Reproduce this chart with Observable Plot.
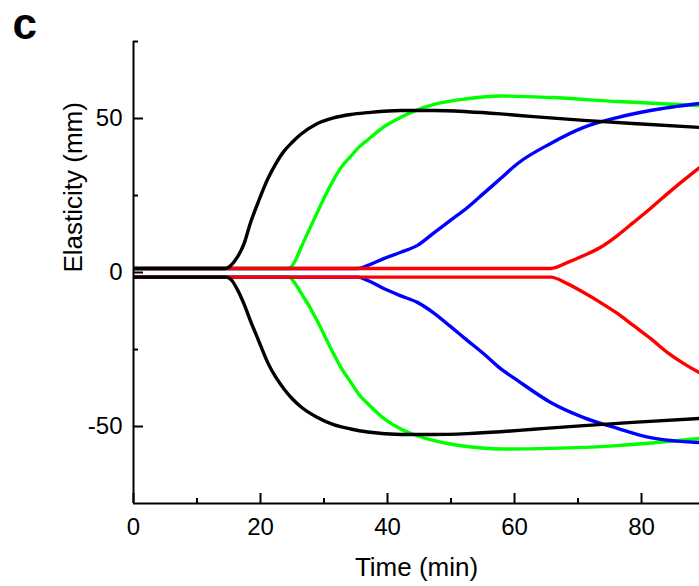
<!DOCTYPE html>
<html><head><meta charset="utf-8">
<script src="https://cdn.jsdelivr.net/npm/d3@7"></script>
<script src="https://cdn.jsdelivr.net/npm/@observablehq/plot@0.6"></script>
<style>body{margin:0;background:#fff}#chart{width:699px;height:586px}</style>
</head><body><div id="chart"></div>
<script>
// Time (min) sampling per colour pair, values = elasticity (mm)
const blackT  = [0, 14.5, 15.4, 16.3, 17.4, 18.4, 19.7, 21.1, 22.4, 23.7, 25.0, 26.3, 28.9, 31.5, 34.2, 36.9, 42.1, 47.2, 52.6, 57.8, 63.0, 70.9, 80.0, 89.1];
const blackUp = [1.3, 1.3, 2.4, 4.8, 9.3, 16.0, 23.2, 30.2, 35.3, 39.4, 42.3, 44.8, 48.3, 50.2, 51.3, 51.9, 52.6, 52.6, 52.2, 51.5, 50.6, 49.4, 48.2, 47.1];
const blackDn = [-1.5, -1.5, -2.4, -5.3, -10.2, -15.6, -22.1, -29.1, -34.0, -37.8, -41.0, -43.5, -47.0, -49.4, -50.8, -51.8, -52.6, -52.6, -52.3, -51.7, -50.9, -49.7, -48.5, -47.4];

const greenT  = [0, 24.4, 25.5, 26.3, 27.6, 28.9, 30.2, 31.5, 32.8, 34.2, 35.5, 36.9, 39.5, 42.1, 44.7, 47.2, 52.5, 57.8, 65.7, 76.2, 89.1];
const greenUp = [1.3, 1.3, 3.9, 7.7, 13.6, 19.3, 25.0, 30.1, 34.4, 37.7, 40.7, 43.1, 47.4, 50.4, 52.8, 54.5, 56.4, 57.3, 56.8, 55.5, 54.2];
const greenDn = [-1.5, -1.5, -3.7, -6.4, -10.7, -15.6, -21.0, -26.4, -31.3, -35.6, -39.6, -42.6, -47.5, -50.8, -53.0, -54.5, -56.5, -57.3, -57.1, -56.2, -53.9];

const blueT  = [0, 35.3, 36.9, 39.4, 42.0, 44.7, 47.2, 49.9, 52.6, 55.1, 57.8, 60.5, 65.7, 70.9, 76.2, 81.4, 89.1];
const blueUp = [1.3, 1.3, 2.3, 4.5, 6.5, 8.8, 12.7, 16.9, 21.1, 25.6, 30.5, 35.4, 41.9, 47.1, 50.3, 52.6, 54.9];
const blueDn = [-1.5, -1.5, -2.6, -5.2, -7.5, -9.7, -13.0, -17.5, -22.1, -26.3, -31.2, -35.1, -42.2, -47.1, -50.6, -53.6, -55.2];

const redT  = [0, 65.7, 68.3, 70.9, 73.5, 76.2, 78.7, 81.4, 84.1, 86.6, 89.1];
const redUp = [1.3, 1.3, 3.2, 5.5, 8.1, 12.0, 16.2, 20.8, 25.6, 29.9, 34.0];
const redDn = [-1.5, -1.5, -3.6, -6.5, -9.7, -13.3, -17.2, -21.4, -26.0, -29.5, -32.5];

const xTicks = [0, 20, 40, 60, 80];
const xMinor = [10, 30, 50, 70];
const yTicks = [-50, 0, 50];
const yMinor = [-25, 25, 75];

const xLabel = "Time (min)";
const yLabel = "Elasticity (mm)";
const panel = "c";

function series(id, T, V) { return T.map((t, i) => ({id, t, v: V[i]})); }
const green = [...series("gu", greenT, greenUp), ...series("gd", greenT, greenDn)];
const blue  = [...series("bu", blueT, blueUp), ...series("bd", blueT, blueDn)];
const red   = [...series("ru", redT, redUp), ...series("rd", redT, redDn)];
const black = [...series("ku", blackT, blackUp), ...series("kd", blackT, blackDn)];

const W = 699, H = 586, mL = 133, mR = 0, mT = 41, mB = 83;
const fw = W - mL - mR, fh = H - mT - mB;
const lineOpts = {x: "t", y: "v", z: "id", strokeWidth: 3.4, curve: "monotone-x", clip: true, strokeLinejoin: "round"};

const chart = Plot.plot({
  width: W, height: H,
  marginLeft: mL, marginRight: mR, marginTop: mT, marginBottom: mB,
  style: {fontFamily: "'Liberation Sans', Arial, Helvetica, sans-serif", fontSize: "24px", background: "#fff", color: "#000"},
  x: {domain: [0, 89.13], label: null},
  y: {domain: [-75, 75], label: null},
  marks: [
    Plot.line(green, {...lineOpts, stroke: "#00ff00"}),
    Plot.line(blue, {...lineOpts, stroke: "#0000ff"}),
    Plot.line(red, {...lineOpts, stroke: "#ff0000"}),
    Plot.line(black, {...lineOpts, stroke: "#000000"}),
    Plot.ruleX([0], {stroke: "#000", strokeWidth: 2}),
    Plot.ruleY([-75], {stroke: "#000", strokeWidth: 2}),
    Plot.tickX(xTicks, {x: d => d, insetTop: fh - 10, stroke: "#000", strokeWidth: 2}),
    Plot.tickX(xMinor, {x: d => d, insetTop: fh - 5, stroke: "#000", strokeWidth: 2}),
    Plot.tickY(yTicks, {y: d => d, insetRight: fw - 10, stroke: "#000", strokeWidth: 2}),
    Plot.tickY(yMinor, {y: d => d, insetRight: fw - 5, stroke: "#000", strokeWidth: 2}),
    Plot.axisX(xTicks, {tickSize: 0, tickPadding: 14, fontSize: 24, label: null, tickFormat: d => String(d)}),
    Plot.axisY(yTicks, {tickSize: 0, tickPadding: 11, fontSize: 24, label: null, tickFormat: d => String(d)}),
    Plot.text([xLabel], {text: d => d, frameAnchor: "bottom", dy: 72, fontSize: 26, fill: "#000"}),
    Plot.text([yLabel], {text: d => d, frameAnchor: "left", rotate: -90, dx: -60, fontSize: 26, fill: "#000"}),
    Plot.text([panel], {text: d => d, frameAnchor: "top-left", dx: -121, dy: -3, textAnchor: "start", lineAnchor: "bottom", fontSize: 44, fontWeight: "bold", fill: "#000"})
  ]
});
document.getElementById("chart").append(chart);
</script></body></html>
